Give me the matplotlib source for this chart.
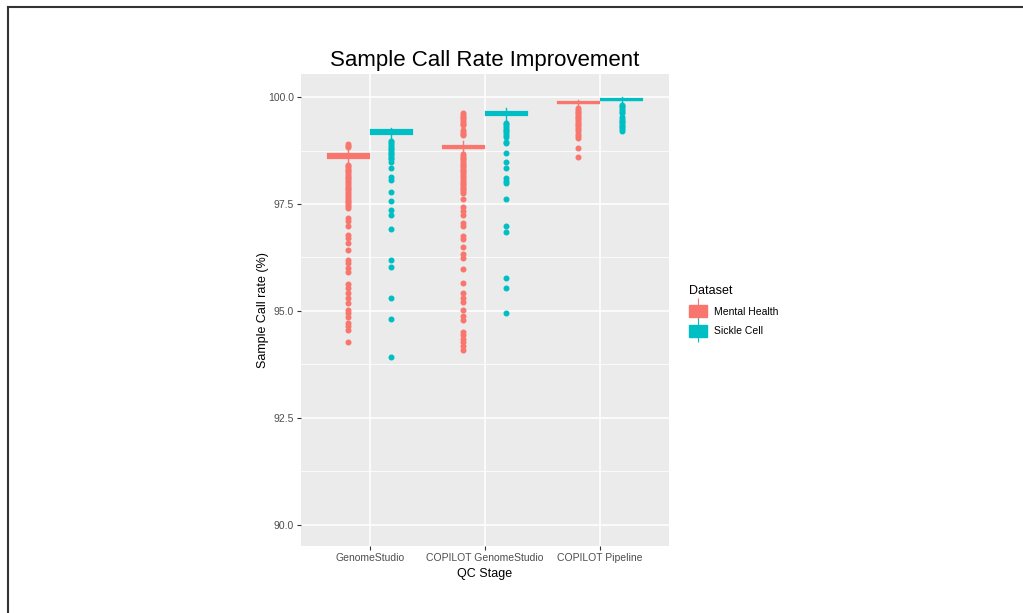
import matplotlib
matplotlib.use("Agg")
import matplotlib.pyplot as plt
from matplotlib.patches import Patch
from matplotlib.lines import Line2D
from matplotlib.legend_handler import HandlerTuple

plt.rcParams['font.family'] = ['Liberation Sans', 'DejaVu Sans']

stages = ["GenomeStudio", "COPILOT GenomeStudio", "COPILOT Pipeline"]
datasets = ["Mental Health", "Sickle Cell"]
colors = ["#F8766D", "#00BFC4"]
y_ticks = [90.0, 92.5, 95.0, 97.5, 100.0]

# box statistics per stage: [Mental Health, Sickle Cell]
q1 = [[98.57, 99.13], [98.80, 99.57], [99.85, 99.92]]
med = [[98.62, 99.18], [98.82, 99.62], [99.87, 99.94]]
q3 = [[98.66, 99.22], [98.85, 99.65], [99.88, 99.96]]
whislo = [[98.46, 99.02], [98.70, 99.46], [99.79, 99.87]]
whishi = [[98.80, 99.28], [98.97, 99.74], [99.93, 100.00]]

fliers_gs_mh = [98.90, 98.86, 98.83,
                98.42, 98.38, 98.34, 98.30, 98.26, 98.22, 98.18, 98.14, 98.10, 98.06,
                98.02, 97.96, 97.92, 97.88, 97.84, 97.80, 97.76, 97.70, 97.66, 97.62,
                97.58, 97.54, 97.50, 97.45, 97.41,
                97.17, 97.09, 96.98, 96.78, 96.71, 96.59, 96.42, 96.20, 96.12, 96.01,
                95.91, 95.62, 95.54, 95.42, 95.31, 95.19, 95.03, 94.96, 94.86, 94.72,
                94.65, 94.55, 94.27]
fliers_gs_sc = [98.98, 98.94, 98.90, 98.86, 98.82, 98.78, 98.74, 98.70, 98.66, 98.62,
                98.58, 98.54, 98.49,
                98.34, 98.13, 98.07, 97.79, 97.58, 97.35, 97.25, 96.92, 96.18, 96.02,
                95.31, 94.82, 93.93]
fliers_cg_mh = [99.62, 99.58, 99.54, 99.50, 99.46, 99.42, 99.38, 99.34,
                99.22, 99.18, 99.14, 99.11,
                98.66, 98.62, 98.58, 98.54, 98.50, 98.46, 98.42, 98.38, 98.34, 98.30,
                98.26, 98.22, 98.18, 98.12, 98.08, 98.04, 98.00, 97.96, 97.92, 97.88,
                97.84, 97.80, 97.76,
                97.62, 97.44, 97.34, 97.25, 97.06, 96.98, 96.76, 96.69, 96.50, 96.34,
                96.24, 95.98, 95.66, 95.42, 95.31, 95.20, 95.02, 94.87, 94.79, 94.51,
                94.43, 94.34, 94.26, 94.18, 94.09]
fliers_cg_sc = [99.40, 99.36, 99.32, 99.28, 99.24, 99.20, 99.16, 99.12, 99.07,
                98.96, 98.92, 98.70, 98.48, 98.34, 98.10, 98.03, 97.99, 97.62, 96.98,
                96.84, 95.77, 95.54, 94.96]
fliers_cp_mh = [99.74, 99.70, 99.66, 99.62, 99.58, 99.54, 99.50, 99.46, 99.42, 99.38,
                99.34, 99.30, 99.25, 99.20, 99.14, 99.09, 99.04, 98.82, 98.61]
fliers_cp_sc = [99.82, 99.78, 99.74, 99.70, 99.66, 99.62,
                99.53, 99.49, 99.45, 99.41, 99.37, 99.33, 99.29, 99.25, 99.21]
fliers = [[fliers_gs_mh, fliers_gs_sc], [fliers_cg_mh, fliers_cg_sc], [fliers_cp_mh, fliers_cp_sc]]

fig = plt.figure(figsize=(10.23, 6.13), dpi=100)
ax = fig.add_axes([0.294, 0.1093, 0.360, 0.770])
ax.set_facecolor("#EBEBEB")

offset = 0.1875
width = 0.36
for i, stage in enumerate(stages):
    for j, ds in enumerate(datasets):
        stats = [dict(med=med[i][j], q1=q1[i][j], q3=q3[i][j], whislo=whislo[i][j],
                      whishi=whishi[i][j], fliers=fliers[i][j])]
        c = colors[j]
        pos = i + 1 + (offset if j == 1 else -offset)
        ax.bxp(stats, positions=[pos], widths=width, patch_artist=True,
               showcaps=False,
               boxprops=dict(facecolor=c, edgecolor=c, linewidth=1.6),
               medianprops=dict(color=c, linewidth=1.6),
               whiskerprops=dict(color=c, linewidth=1.0),
               flierprops=dict(marker='o', markerfacecolor=c, markeredgecolor=c,
                               markersize=3.3, linestyle='none'),
               zorder=3)

ax.set_xlim(0.4, 3.6)
ax.set_ylim(89.5, 100.54)
ax.set_xticks([1, 2, 3])
ax.set_xticklabels(stages)
ax.set_yticks(y_ticks)
ax.set_yticklabels([f"{v:.1f}" for v in y_ticks])
ax.set_yticks([91.25, 93.75, 96.25, 98.75], minor=True)
ax.tick_params(axis='both', which='major', labelsize=7.5, labelcolor="#4D4D4D",
               color="#333333", length=3, width=0.8, pad=2)
ax.tick_params(axis='y', which='minor', length=0)
ax.grid(True, which='major', color='white', linewidth=1.1, zorder=0)
ax.grid(True, which='minor', axis='y', color='white', linewidth=0.55, zorder=0)
ax.set_axisbelow(True)
for s in ax.spines.values():
    s.set_visible(False)

ax.set_xlabel("QC Stage", fontsize=9, color="black", labelpad=4)
ax.set_ylabel("Sample Call rate (%)", fontsize=9, color="black", labelpad=-1)
ax.set_title("Sample Call Rate Improvement", fontsize=16, color="black", pad=6)

handles = []
for c in colors:
    p = Patch(facecolor=c, edgecolor=c)
    l = Line2D([], [], color=c, marker='|', markersize=17, linestyle='none', markeredgewidth=0.8)
    handles.append((p, l))
leg = fig.legend(handles, datasets, title="Dataset", loc='upper left',
                 bbox_to_anchor=(0.664, 0.55), frameon=False, fontsize=7.5,
                 title_fontsize=9, handlelength=1.8, handleheight=1.4,
                 handletextpad=0.6, labelspacing=0.75,
                 handler_map={tuple: HandlerTuple(ndivide=1)})
leg._legend_box.align = "left"

# image border (top and left)
fig.add_artist(Line2D([8 / 1023, 8 / 1023], [0, 1 - 7 / 613], transform=fig.transFigure,
                      color="#333333", linewidth=1.5))
fig.add_artist(Line2D([8 / 1023, 1], [1 - 7 / 613, 1 - 7 / 613], transform=fig.transFigure,
                      color="#333333", linewidth=1.5))

fig.savefig("out.png", dpi=100)
